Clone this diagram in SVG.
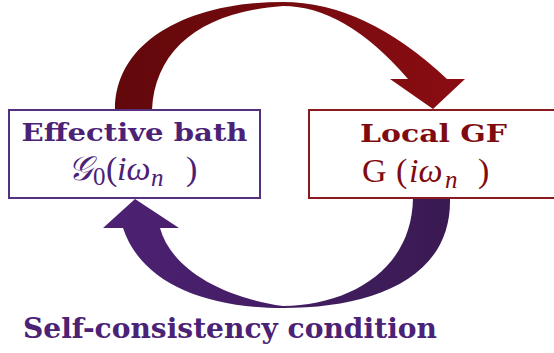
<svg xmlns="http://www.w3.org/2000/svg" width="554" height="353" viewBox="0 0 554 353">
  <defs>
    <linearGradient id="gTop" gradientUnits="userSpaceOnUse" x1="115" y1="0" x2="465" y2="0">
      <stop offset="0" stop-color="#62080b"/>
      <stop offset="1" stop-color="#8a0d12"/>
    </linearGradient>
    <linearGradient id="gBot" gradientUnits="userSpaceOnUse" x1="103" y1="0" x2="452" y2="0">
      <stop offset="0" stop-color="#4d2174"/>
      <stop offset="1" stop-color="#3a1a52"/>
    </linearGradient>
  </defs>
  <style>
    .box { fill: #ffffff; stroke-width: 2; }
    .purple { fill: #4b2275; }
    .red { fill: #7f0b10; }
    .title { font-family: "DejaVu Serif", "Liberation Serif", serif; font-weight: bold; font-size: 25px; }
    .math { font-family: "Liberation Serif", "DejaVu Serif", serif; font-size: 34px; }
    .it { font-style: italic; }
    .sub { font-size: 25px; }
  </style>
  <rect width="554" height="353" fill="#ffffff"/>
  <g id="connectors">
    <path id="arrow-top" fill="url(#gTop)" d="M115,110 C115,40 190,2 283,2 Q365,2 447,79 L465,79 L433,109 L390,79 L408,79 Q345,6 283,6 C200,12 155,50 152,110 Z"/>
    <path id="arrow-bottom" fill="url(#gBot)" d="M450,198 C452,280 370,308 283,308 C200,308 140,280 123,228 L103,228 L135,199 L179,228 L160,228 C170,265 215,296 283,306 C350,305 412,270 413,198 Z"/>
  </g>
  <g id="node-bath">
    <rect class="box" x="9" y="110" width="251" height="88" stroke="#55307f"/>
    <text class="title purple" x="134.5" y="141" text-anchor="middle" textLength="226" lengthAdjust="spacingAndGlyphs">Effective bath</text>
    <text class="math purple" y="180"><tspan x="68" class="it">𝒢</tspan><tspan x="93" dy="5" class="sub">0</tspan><tspan x="106" dy="-5">(</tspan><tspan x="117" class="it">iω</tspan><tspan x="151" dy="6" class="sub it">n</tspan><tspan x="186" dy="-6">)</tspan></text>
  </g>
  <g id="node-local">
    <rect class="box" x="309" y="110" width="250" height="88" stroke="#8b1a1e"/>
    <text class="title red" x="433.5" y="142" text-anchor="middle" textLength="147" lengthAdjust="spacingAndGlyphs">Local GF</text>
    <text class="math red" y="182"><tspan x="362">G</tspan><tspan x="396">(</tspan><tspan x="409" class="it">iω</tspan><tspan x="445" dy="6" class="sub it">n</tspan><tspan x="478" dy="-6">)</tspan></text>
  </g>
  <g id="label-selfconsistency">
    <text class="title purple" x="23" y="338" style="font-size:28px" textLength="414" lengthAdjust="spacingAndGlyphs">Self-consistency condition</text>
  </g>
</svg>
